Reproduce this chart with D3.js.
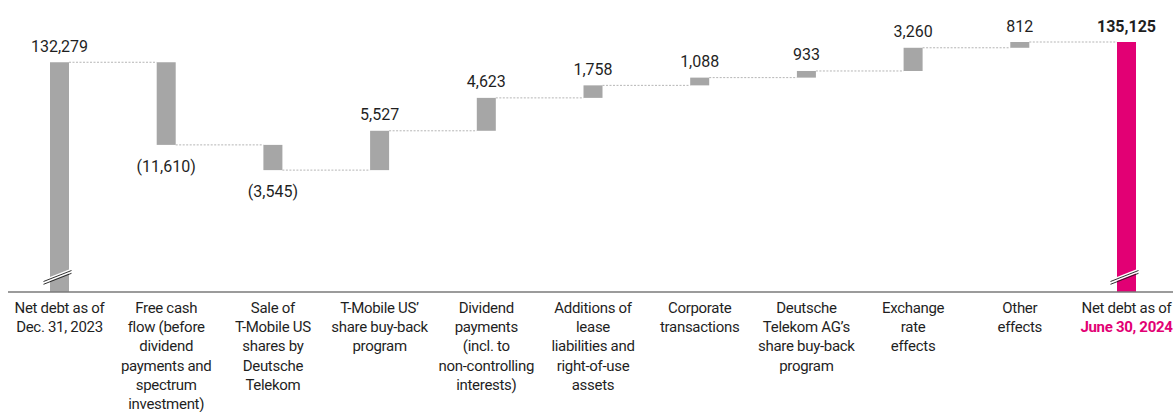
<!DOCTYPE html>
<html>
<head>
<meta charset="utf-8">
<script src="https://cdn.jsdelivr.net/npm/d3@7"></script>
<style>
  body { margin: 0; background: #fff; }
  text { font-family: Roboto, "Noto Sans", sans-serif; fill: #1f1f1f; }
</style>
</head>
<body>
<div id="chart"></div>
<script>
// waterfall data (EUR million)
var categories = ["start", "fcf", "sale", "tmus", "div", "lease", "corp", "dtag", "fx", "other", "end"];
var values = [132279, -11610, -3545, 5527, 4623, 1758, 1088, 933, 3260, 812, 135125];
var kinds = ["total", "delta", "delta", "delta", "delta", "delta", "delta", "delta", "delta", "delta", "total"];
var valueLabels = ["132,279", "(11,610)", "(3,545)", "5,527", "4,623", "1,758", "1,088", "933", "3,260", "812", "135,125"];
var tickLines = [
	["Net debt as of", "Dec. 31, 2023"],
	["Free cash", "flow (before", "dividend", "payments and", "spectrum", "investment)"],
	["Sale of", "T-Mobile US", "shares by", "Deutsche", "Telekom"],
	["T-Mobile US’", "share buy-back", "program"],
	["Dividend", "payments", "(incl. to", "non-controlling", "interests)"],
	["Additions of", "lease", "liabilities and", "right-of-use", "assets"],
	["Corporate", "transactions"],
	["Deutsche", "Telekom AG’s", "share buy-back", "program"],
	["Exchange", "rate", "effects"],
	["Other", "effects"],
	["Net debt as of", "June 30, 2024"]
];
var axisBreakValue = 100000; // y axis is cut, bars start here

var width = 1173, height = 412;
var barW = 19;
var grey = "#a6a6a6", magenta = "#e20074";

var svg = d3.select("#chart")
	.append("svg")
	.attr("width", width)
	.attr("height", height);

var x = d3.scalePoint()
	.domain(categories)
	.range([59.5, 1126.5]);

var y = d3.scaleLinear()
	.domain([axisBreakValue, 135125])
	.range([292, 42]);

// running totals for floating bars
var bars = [];
var running = 0;
for (let i = 0; i < values.length; i++) {
	let lo, hi;
	if (kinds[i] == "total") {
		lo = axisBreakValue;
		hi = values[i];
		running = values[i];
	} else {
		let prev = running;
		running = running + values[i];
		lo = Math.min(prev, running);
		hi = Math.max(prev, running);
	}
	bars.push({cat: categories[i], v: values[i], lo: lo, hi: hi, level: running, label: valueLabels[i], kind: kinds[i]});
}

// dotted connectors
for (let i = 0; i < bars.length - 1; i++) {
	svg.append("line")
		.attr("x1", x(bars[i].cat) + barW / 2)
		.attr("x2", x(bars[i + 1].cat) - barW / 2)
		.attr("y1", y(bars[i].level))
		.attr("y2", y(bars[i].level))
		.attr("stroke", "#b5b5b5")
		.attr("stroke-width", 1)
		.attr("stroke-dasharray", "2,1.5");
}

// bars
svg.selectAll(".bar")
	.data(bars)
	.enter()
	.append("rect")
	.attr("x", function(d) { return x(d.cat) - barW / 2; })
	.attr("y", function(d) { return y(d.hi); })
	.attr("width", barW)
	.attr("height", function(d) { return y(d.lo) - y(d.hi); })
	.attr("fill", function(d, i) { return i == bars.length - 1 ? magenta : grey; });

// value labels
svg.selectAll(".val")
	.data(bars)
	.enter()
	.append("text")
	.attr("x", function(d) { return x(d.cat); })
	.attr("y", function(d) { return d.v < 0 ? y(d.lo) + 27 : y(d.hi) - 10.5; })
	.attr("text-anchor", "middle")
	.attr("font-size", "16px")
	.attr("font-weight", function(d, i) { return i == bars.length - 1 ? "bold" : "normal"; })
	.text(function(d) { return d.label; });

// axis break marks on the two total bars
bars.filter(function(d) { return d.kind == "total"; }).forEach(function(d) {
	var cx = x(d.cat);
	var g = svg.append("g");
	g.append("line")
		.attr("x1", cx - 16).attr("y1", 281.5)
		.attr("x2", cx + 12).attr("y2", 270.5)
		.attr("stroke", "#fff").attr("stroke-width", 3.5);
	[0, 2.8].forEach(function(off) {
		g.append("line")
			.attr("x1", cx - 16).attr("y1", 281.5 + off)
			.attr("x2", cx + 12).attr("y2", 270.5 + off)
			.attr("stroke", "#1a1a1a").attr("stroke-width", 0.9);
	});
});

// baseline
svg.append("line")
	.attr("x1", 8).attr("x2", width)
	.attr("y1", 292).attr("y2", 292)
	.attr("stroke", "#7a7a7a")
	.attr("stroke-width", 1.5);

// category labels
var ticks = svg.selectAll(".tick")
	.data(categories)
	.enter()
	.append("text")
	.attr("text-anchor", "middle")
	.attr("font-size", "15px")
	.attr("letter-spacing", "-0.3px");

ticks.each(function(c, i) {
	var t = d3.select(this);
	tickLines[i].forEach(function(line, j) {
		var ts = t.append("tspan")
			.attr("x", x(c))
			.attr("y", 313 + j * 19.2)
			.text(line);
		if (i == categories.length - 1 && j == 1) {
			ts.style("fill", magenta).attr("font-weight", "bold");
		}
	});
});
</script>
</body>
</html>
